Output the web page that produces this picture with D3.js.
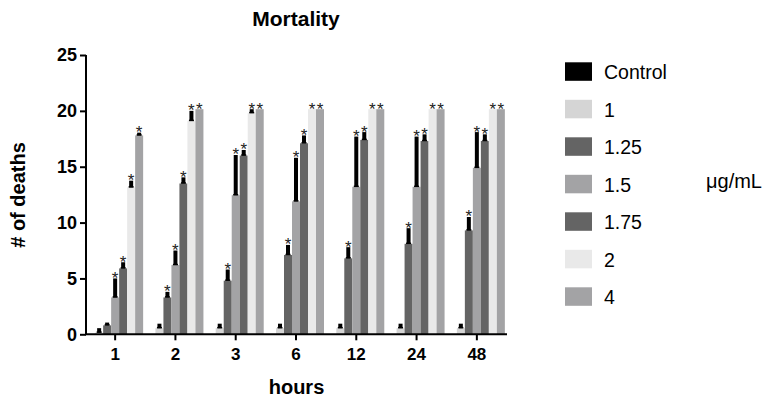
<!DOCTYPE html>
<html>
<head>
<meta charset="utf-8">
<script src="https://cdn.jsdelivr.net/npm/d3@7"></script>
<style>
  html, body { margin: 0; padding: 0; background: #fff; }
  svg { display: block; font-family: "Liberation Sans", Arial, sans-serif; }
</style>
</head>
<body>
<svg id="chart" width="771" height="403"></svg>
<script>
// ---- data ----
const hours = ["1", "2", "3", "6", "12", "24", "48"];
const series = ["Control", "1", "1.25", "1.5", "1.75", "2", "4"];
const seriesColors = ["#000000", "#d5d5d5", "#646464", "#a3a3a5", "#646464", "#e9e9e9", "#a3a3a5"];

const meanControl = [0, 0, 0, 0, 0, 0, 0];
const mean1       = [0.15, 0.55, 0.55, 0.55, 0.55, 0.55, 0.55];
const mean125     = [0.8, 3.3, 4.8, 7.1, 6.8, 8.1, 9.3];
const mean15      = [3.3, 6.2, 12.45, 11.9, 13.2, 13.2, 14.9];
const mean175     = [5.9, 13.5, 16.0, 17.1, 17.4, 17.3, 17.3];
const mean2       = [13.15, 19.1, 19.8, 20.15, 20.15, 20.15, 20.15];
const mean4       = [17.8, 20.15, 20.15, 20.15, 20.15, 20.15, 20.15];

const errControl = [0, 0, 0, 0, 0, 0, 0];
const err1       = [0.4, 0.4, 0.4, 0.4, 0.4, 0.4, 0.4];
const err125     = [0.25, 0.5, 1.0, 0.9, 1.0, 1.4, 1.2];
const err15      = [1.7, 1.3, 3.6, 3.9, 4.5, 4.5, 3.2];
const err175     = [0.55, 0.55, 0.5, 0.7, 0.7, 0.6, 0.6];
const err2       = [0.6, 0.9, 0.35, 0, 0, 0, 0];
const err4       = [0.25, 0, 0, 0, 0, 0, 0];

const sigControl = [0, 0, 0, 0, 0, 0, 0];
const sig1       = [0, 0, 0, 0, 0, 0, 0];
const sig125     = [0, 1, 1, 1, 1, 1, 1];
const sig15      = [1, 1, 1, 1, 1, 1, 1];
const sig175     = [1, 1, 1, 1, 1, 1, 1];
const sig2       = [1, 1, 1, 1, 1, 1, 1];
const sig4       = [1, 1, 1, 1, 1, 1, 1];

const yTicks = [0, 5, 10, 15, 20, 25];

const means = [meanControl, mean1, mean125, mean15, mean175, mean2, mean4];
const errs  = [errControl, err1, err125, err15, err175, err2, err4];
const sigs  = [sigControl, sig1, sig125, sig15, sig175, sig2, sig4];

const rows = [];
hours.forEach((h, hi) => {
  series.forEach((s, si) => {
    rows.push({ hour: h, series: s, si, value: means[si][hi], err: errs[si][hi], sig: sigs[si][hi] });
  });
});

// ---- layout ----
const svg = d3.select("#chart");
const font = "'Liberation Sans', Arial, sans-serif";

const x0 = d3.scaleBand().domain(hours).range([85, 507]).padding(0);
const groupW = 56;
const x1 = d3.scaleBand().domain(series).range([0, groupW]).padding(0);
const y = d3.scaleLinear().domain([0, 25]).range([334.3, 55]);
const color = d3.scaleOrdinal().domain(series).range(seriesColors);
const off = (x0.bandwidth() - groupW) / 2;
const cx = d => x0(d.hour) + off + x1(d.series) + x1.bandwidth() / 2;

// bars
svg.append("g").selectAll("rect").data(rows).join("rect")
  .attr("x", d => x0(d.hour) + off + x1(d.series))
  .attr("width", x1.bandwidth())
  .attr("y", d => y(d.value))
  .attr("height", d => y(0) - y(d.value))
  .attr("fill", d => color(d.series));

// error bars (upper only)
const eb = svg.append("g").selectAll("g").data(rows.filter(d => d.err > 0)).join("g");
eb.append("line")
  .attr("x1", cx).attr("x2", cx)
  .attr("y1", d => y(d.value))
  .attr("y2", d => y(d.value + d.err))
  .attr("stroke", "#000").attr("stroke-width", 4);
eb.append("line")
  .attr("x1", d => cx(d) - 2.5)
  .attr("x2", d => cx(d) + 2.5)
  .attr("y1", d => y(d.value) - 0.5)
  .attr("y2", d => y(d.value) - 0.5)
  .attr("stroke", "#000").attr("stroke-width", 1.5);

// asterisks
svg.append("g").selectAll("text").data(rows.filter(d => d.sig)).join("text")
  .attr("x", cx)
  .attr("y", d => y(d.value + d.err) + 5.5)
  .attr("text-anchor", "middle")
  .style("font-family", font).style("font-size", "17px").attr("fill", "#222")
  .text("*");

// y axis
const yAxis = svg.append("g").attr("transform", "translate(86,0)")
  .call(d3.axisLeft(y).tickValues(yTicks).tickSize(6).tickPadding(3).tickFormat(d3.format("d")));
yAxis.select(".domain").attr("stroke", "#000").attr("stroke-width", 2)
  .attr("d", `M0,${y(25)}V${y(0)}`);
yAxis.selectAll(".tick line").attr("stroke", "#000").attr("stroke-width", 2);
yAxis.selectAll(".tick text").style("font-family", font).style("font-size", "18px")
  .style("font-weight", "bold").attr("fill", "#000");

// x axis
const xAxis = svg.append("g").attr("transform", `translate(0,${y(0)})`)
  .call(d3.axisBottom(x0).tickSize(6).tickPadding(8));
xAxis.select(".domain").attr("stroke", "#000").attr("stroke-width", 2)
  .attr("d", "M85,0H507");
xAxis.selectAll(".tick line").attr("stroke", "#000").attr("stroke-width", 2);
xAxis.selectAll(".tick text").style("font-family", font).style("font-size", "17px")
  .style("font-weight", "bold").attr("fill", "#000");

// titles
svg.append("text").attr("x", 296).attr("y", 26).attr("text-anchor", "middle")
  .style("font-family", font).style("font-size", "21px").style("font-weight", "bold")
  .text("Mortality");
svg.append("text").attr("x", 296.5).attr("y", 394).attr("text-anchor", "middle")
  .style("font-family", font).style("font-size", "20px").style("font-weight", "bold")
  .text("hours");
svg.append("text").attr("transform", "translate(25,195) rotate(-90)").attr("text-anchor", "middle")
  .style("font-family", font).style("font-size", "20px").style("font-weight", "bold")
  .text("# of deaths");

// legend
const lg = svg.append("g").selectAll("g").data(series).join("g")
  .attr("transform", (d, i) => `translate(565,${62.3 + i * 37.5})`);
lg.append("rect").attr("width", 27).attr("height", 18.5).attr("fill", d => color(d));
lg.append("text").attr("x", 39).attr("y", 17)
  .style("font-family", font).style("font-size", "19.5px").attr("fill", "#000")
  .text(d => d);
svg.append("text").attr("x", 706).attr("y", 188)
  .style("font-family", font).style("font-size", "20px").attr("fill", "#000")
  .text("μg/mL");
</script>
</body>
</html>
